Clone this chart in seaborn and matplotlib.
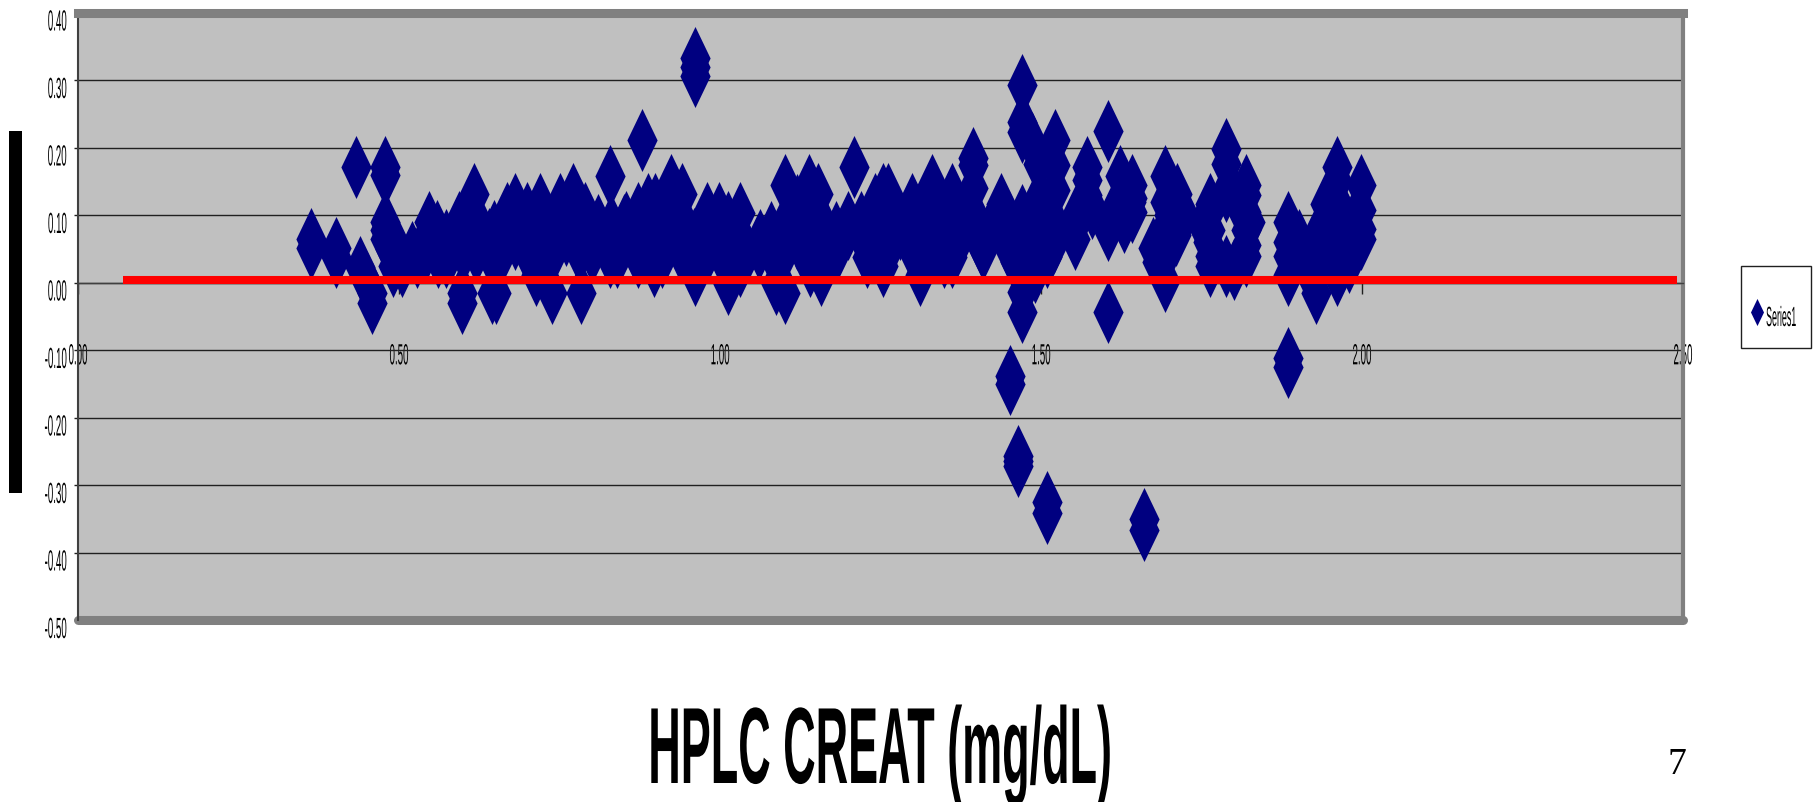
from matplotlib import pyplot as plt
from matplotlib.patches import Rectangle
from matplotlib.patheffects import AbstractPathEffect
from matplotlib.path import Path
from matplotlib.transforms import Affine2D
import seaborn as sns
import pandas as pd

W, H = 1814, 802

# values: (creatinine, difference)
left_x = [.363, .363, .402, .402, .433, .478, .478, .478, .478, .478, .439, .45, .458, .458, .491, .505,
          .528, .561, .573, .547, .559, .573, .593, .617, .617, .598, .598, .645, .651, .648, .486]
left_y = [.064, .051, .051, .038, .171, .171, .159, .09, .078, .064, .023, -.001, -.016, -.03, .024, .024,
          .038, .038, .038, .09, .076, .063, .09, .131, .10, -.03, -.016, -.016, -.016, .076, .05]

peak_x = [.669, .681, .70, .72, .751, .771, .79, .828, .854, .872, .888, .899, .923, .941, .98, .999, 1.012,
          1.031, 1.062, 1.101, 1.139, 1.152, 1.209, 1.241, 1.254, 1.262, 1.299, 1.33, 1.362, 1.394, 1.394, 1.394,
          .879, .961, .961, .961]
peak_y = [.1025, .117, .1025, .117, .117, .131, .1025, .158, .09, .1025, .117, .117, .144, .131, .1025, .1025, .09,
          .1025, .063, .144, .144, .131, .171, .117, .131, .131, .117, .144, .131, .184, .174, .14,
          .211, .332, .32, .306]

low_x = [.713, .739, .783, .828, .84, .872, .897, .91, .961, 1.012, 1.031, 1.088, 1.101, 1.14, 1.158,
         1.229, 1.254, 1.312, 1.349, 1.362, 1.407]
low_y = [.011, -.016, -.016, .038, .038, .038, .024, .038, .011, -.002, .024, -.002, -.016, .024, .011,
         .038, .024, .011, .038, .038, .056]

# points inside the solid mass, estimated
band_hi_x = [.54, .56, .58, .60, .62, .64, .66, .68, .70, .72, .74, .76, .78, .80, .82, .84, .86, .88, .90, .92,
             .94, .96, .98, 1.00, 1.02, 1.04, 1.06, 1.08, 1.10, 1.12, 1.14, 1.16, 1.18, 1.20, 1.22, 1.24, 1.26,
             1.28, 1.30, 1.32, 1.34, 1.36, 1.38, 1.40, 1.42, 1.44, 1.46]
band_hi_y = [.06, .06, .06, .06, .06, .065, .065, .065, .065, .065, .065, .07, .065, .065, .065, .065, .065, .065,
             .065, .065, .065, .065, .065, .065, .06, .05, .05, .06, .065, .065, .065, .065, .07, .08, .07, .07,
             .07, .08, .07, .065, .065, .07, .08, .07, .08, .08, .07]
band_lo_x = [.50, .52, .54, .56, .58, .60, .62, .64, .66, .70, .72, .74, .78, .80, .84, .88, .90, .94, .96, .98,
             1.00, 1.02, 1.08, 1.10, 1.14, 1.16, 1.18, 1.24, 1.26, 1.30, 1.32, 1.34, 1.36, 1.41]
band_lo_y = [.045, .045, .045, .045, .045, .045, .045, .045, .045, .045, .045, .045, .045, .045, .045, .045, .045,
             .045, .045, .045, .045, .045, .045, .045, .045, .045, .045, .045, .045, .045, .045, .045, .045, .05]
band_up_x = [.67, .69, .71, .73, .75, .77, .79, .81, .83, .85, .87, .89, .91, .93, .95, .97, .99, 1.01, 1.03,
             1.08, 1.10, 1.12, 1.14, 1.16, 1.18, 1.20, 1.22, 1.24, 1.26, 1.28, 1.30, 1.32, 1.34, 1.36, 1.38, 1.40, 1.42]
band_up_y = [.08, .085, .085, .085, .085, .085, .085, .085, .085, .085, .085, .085, .085, .085, .075, .08, .08, .08, .07,
             .075, .085, .09, .09, .085, .075, .09, .09, .09, .085, .085, .09, .09, .09, .09, .085, .09, .08]

right_x = [1.438, 1.47, 1.47, 1.47, 1.486, 1.522, 1.522, 1.522, 1.49, 1.49, 1.509, 1.51, 1.47, 1.47, 1.47, 1.451, 1.451,
           1.553, 1.553, 1.572, 1.572, 1.572, 1.604, 1.604, 1.623, 1.62, 1.604, 1.641, 1.641, 1.641,
           1.693, 1.693, 1.693, 1.693, 1.693, 1.712, 1.722, 1.674,
           1.763, 1.763, 1.763, 1.763, 1.788, 1.788, 1.788, 1.82, 1.82, 1.82, 1.82, 1.82,
           1.884, 1.884, 1.884, 1.884, 1.884, 1.884, 1.902, 1.929, 1.929, 1.929, 1.942, 1.942,
           1.961, 1.961, 1.961, 1.961, 1.961, 1.961, 1.961, 1.998, 1.998, 1.998, 1.998,
           1.464, 1.464, 1.464, 1.509, 1.509, 1.661, 1.661]
right_y = [.117, .292, .238, .223, .206, .211, .174, .137, .115, .085, .038, .078, -.014, -.043, .02, -.139, -.151,
           .064, .097, .171, .152, .13, .224, .078, .158, .115, -.043, .144, .125, .105,
           .158, .12, .08, .04, .002, .131, .10, .051,
           .117, .078, .04, .025, .198, .176, .024, .144, .13, .105, .078, .056,
           .09, .06, .04, .011, -.112, -.125, .063, -.016, .02, .05, .117, .08,
           .171, .15, .12, .09, .06, .03, .011, .144, .108, .08, .064,
           -.257, -.272, -.265, -.325, -.341, -.351, -.367]

# more estimated points that close the gaps in the clusters
fill_x = [1.45, 1.45, 1.47, 1.47, 1.49, 1.49, 1.49, 1.50, 1.50, 1.52, 1.52, 1.46, 1.495,
          1.56, 1.58, 1.61, 1.63, 1.64, 1.71, 1.70, 1.68, 1.76, 1.76, 1.80, 1.80, 1.82, 1.788,
          1.91, 1.93, 1.95, 1.95, 1.975, 1.975, 1.98, 1.99, 1.12, 1.75, 1.825]
fill_y = [.09, .05, .10, .06, .05, .03, .015, .12, .07, .09, .06, .03, .175,
          .10, .11, .10, .09, .12, .07, .10, .03, .10, .06, .13, .02, .04, .135,
          .03, .07, .10, .05, .09, .05, .03, .10, .115, .085, .09]

line_x = [.07, 2.49]
line_y = [.003, .003]

x_ticks = [0, .5, 1, 1.5, 2, 2.5]
x_labels = ['0.00', '0.50', '1.00', '1.50', '2.00', '2.50']
y_ticks = [.4, .3, .2, .1, 0, -.1, -.2, -.3, -.4, -.5]
y_labels = ['0.40', '0.30', '0.20', '0.10', '0.00', '-0.10', '-0.20', '-0.30', '-0.40', '-0.50']

NAVY = '#000080'
GRAY = '#808080'


class Squeeze(AbstractPathEffect):
    # the source text is stretched tall and narrow, this does the same about one point
    def __init__(self, sx, sy=1, anchor='center', dy=0):
        super().__init__()
        self.sx = sx
        self.sy = sy
        self.anchor = anchor
        self.dy = dy

    def draw_path(self, renderer, gc, tpath, affine, rgbFace=None):
        ext = tpath.get_extents()
        pos = {'left': ext.x0, 'center': (ext.x0 + ext.x1) / 2, 'right': ext.x1}[self.anchor]
        squeeze = Affine2D().translate(-pos, 0).scale(self.sx, self.sy).translate(pos, 0)
        renderer.draw_path(gc, tpath, squeeze + affine + Affine2D().translate(0, -self.dy), rgbFace)


df = pd.DataFrame({
    'creat': left_x + peak_x + low_x + band_hi_x + band_lo_x + band_up_x + right_x + fill_x,
    'diff': left_y + peak_y + low_y + band_hi_y + band_lo_y + band_up_y + right_y + fill_y,
})

sns.set_style('white')
plt.rcParams['font.family'] = ['Liberation Sans', 'DejaVu Sans']
plt.rcParams['text.color'] = 'black'
plt.rcParams['xtick.labelcolor'] = 'black'
plt.rcParams['ytick.labelcolor'] = 'black'

fig = plt.figure(figsize=(W / 100, H / 100), dpi=100)
ax = fig.add_axes([78 / W, 1 - 620 / H, (1683 - 78) / W, (620 - 12.5) / H])
ax.set_facecolor('#C0C0C0')

diamond = Path([(0, 1), (.48, 0), (0, -1), (-.48, 0), (0, 1)], closed=True)
sns.scatterplot(data=df, x='creat', y='diff', marker=diamond, s=2058, color=NAVY, linewidth=0,
                label='Series1', zorder=3, ax=ax)
sns.lineplot(x=line_x, y=line_y, color='#FF0000', linewidth=5.8, solid_capstyle='butt',
             legend=False, zorder=4, ax=ax)

ax.set_xlim(0, 2.5)
ax.set_ylim(-.5, .4)
ax.set_xlabel('')
ax.set_ylabel('')
ax.set_xticks(x_ticks)
ax.set_xticklabels(x_labels)
ax.set_yticks(y_ticks)
ax.set_yticklabels(y_labels, va='top')
ax.yaxis.grid(True, color='#202020', linewidth=1)
ax.xaxis.grid(False)
ax.set_axisbelow(True)

ax.spines['bottom'].set_position(('data', 0))
ax.spines['bottom'].set_color('#404040')
ax.spines['bottom'].set_linewidth(1)
ax.spines['left'].set_color('#404040')
ax.spines['left'].set_linewidth(1.5)
ax.spines['top'].set_color(GRAY)
ax.spines['top'].set_linewidth(6.5)
ax.spines['right'].set_color(GRAY)
ax.spines['right'].set_linewidth(3)
ax.axhline(-.5, color=GRAY, linewidth=6.5, clip_on=False, zorder=2)

ax.tick_params(axis='x', bottom=True, length=8, width=1, color='#202020', pad=43, labelsize=10)
ax.tick_params(axis='y', left=True, length=3, width=1, color='#202020', pad=5, labelsize=10)
for lab in ax.get_xticklabels():
    lab.set_path_effects([Squeeze(.7, 2.1)])
for lab in ax.get_yticklabels():
    lab.set_path_effects([Squeeze(.7, 2.1, 'right', dy=7)])

# legend box and entry
fig.add_artist(Rectangle((1741 / W, 1 - 348 / H), 70 / W, 82 / H, transform=fig.transFigure,
                         facecolor='white', edgecolor='#202020', linewidth=1, zorder=-1))
leg = ax.legend(loc='center left', bbox_to_anchor=(1745 / W, 1 - 312 / H), bbox_transform=fig.transFigure,
                frameon=False, fontsize=8, markerscale=.43, borderpad=0, borderaxespad=0,
                handlelength=2.16, handletextpad=-.27)
for txt in leg.get_texts():
    txt.set_path_effects([Squeeze(.8, 2.5, 'left', dy=11)])

# rotated axis title in the source is only a solid black bar
fig.add_artist(Rectangle((9 / W, 1 - 493 / H), 13 / W, 362 / H, transform=fig.transFigure,
                         facecolor='black', edgecolor='none'))

fig.text(880 / W, 1 - 783 / H, 'HPLC CREAT (mg/dL)', ha='center', va='baseline', fontsize=78,
         fontweight='bold', path_effects=[Squeeze(.415)])
fig.text(1677 / W, 1 - 774 / H, '7', ha='center', va='baseline', fontsize=27, family='Liberation Serif')

fig.savefig('out.png', dpi=100)
